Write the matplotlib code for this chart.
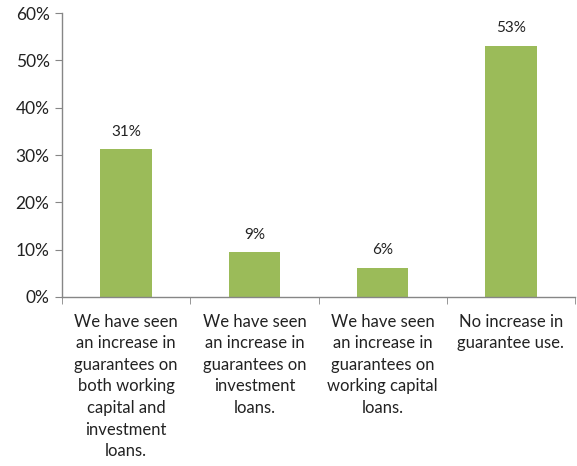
import numpy as np
import matplotlib.pyplot as plt

plt.rcParams['font.family'] = ['Lato', 'DejaVu Sans']

# Data
categories = [
    "We have seen\nan increase in\nguarantees on\nboth working\ncapital and\ninvestment\nloans.",
    "We have seen\nan increase in\nguarantees on\ninvestment\nloans.",
    "We have seen\nan increase in\nguarantees on\nworking capital\nloans.",
    "No increase in\nguarantee use.",
]
values = [31.2, 9.4, 6.2, 53.1]
value_labels = ["31%", "9%", "6%", "53%"]
yticks = [0, 10, 20, 30, 40, 50, 60]

grey = '#868686'
green = '#9BBB59'

fig = plt.figure(figsize=(5.77, 4.66), dpi=100)
ax = fig.add_axes([0.1075, 0.3627, 0.889, 0.6093])

x = np.arange(len(values))
ax.bar(x, values, width=0.4, color=green)
for xi, v, lab in zip(x, values, value_labels):
    ax.text(xi, v + 2.2, lab, ha='center', va='bottom', fontsize=11, color='#222222')

ax.set_xlim(-0.5, 3.5)
ax.set_ylim(0, 60)
ax.set_yticks(yticks)
ax.set_yticklabels([f"{t}%" for t in yticks], fontsize=12.5, color='#222222')
ax.set_xticks(x)
ax.set_xticklabels(categories, fontsize=12, color='#222222', linespacing=1.43, va='top')
ax.set_xticks(np.arange(-0.5, 4.0, 1.0), minor=True)
ax.tick_params(axis='x', which='major', length=0, pad=12)
ax.tick_params(axis='x', which='minor', length=5, color=grey, direction='out')
ax.tick_params(axis='y', length=5, color=grey, direction='out', pad=4)

for s in ['top', 'right']:
    ax.spines[s].set_visible(False)
for s in ['left', 'bottom']:
    ax.spines[s].set_color(grey)
    ax.spines[s].set_linewidth(1.0)

fig.savefig('out.png', dpi=100)
